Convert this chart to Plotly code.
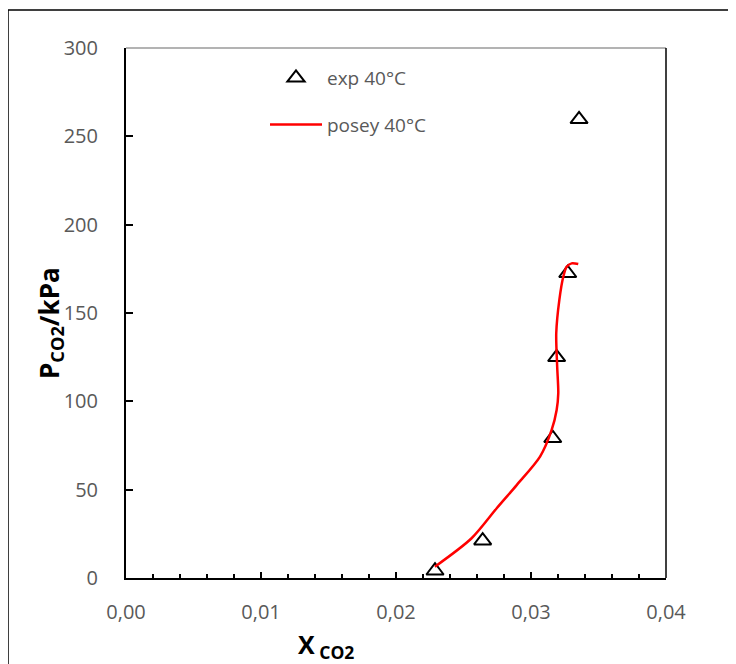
import plotly.graph_objects as go

# experimental points
exp_x = [0.02289, 0.02642, 0.03161, 0.03190, 0.03272, 0.03356]
exp_y = [4.1, 21.1, 79.1, 124.9, 172.5, 259.6]

# model curve
model_x = [0.02288, 0.02560, 0.02746, 0.02894, 0.03067, 0.03153, 0.03190, 0.03202,
           0.03194, 0.03187, 0.03210, 0.03239, 0.03264, 0.03301, 0.03350]
model_y = [6.4, 22.5, 39.5, 52.6, 68.7, 83.8, 95.1, 104.5,
           119.6, 138.5, 157.4, 170.5, 176.2, 178.1, 177.7]

x_ticks = [0.0, 0.01, 0.02, 0.03, 0.04]
y_ticks = [0, 50, 100, 150, 200, 250, 300]

GREY = "#595959"
FONT = "Open Sans"

# page has an 8px body margin; figure drawn at offset (8, 8)
OFF = 8
L, T = 126 - OFF, 48 - OFF
PW, PH = 540, 530
W, H = 736 - OFF, 664 - OFF

fig = go.Figure()
fig.add_trace(go.Scatter(
    x=exp_x, y=exp_y, mode="markers", name="exp 40°C", legendgroup="a",
    marker=dict(symbol="triangle-up-open", size=15, color="black", line=dict(width=2, color="black")),
))
fig.add_trace(go.Scatter(
    x=model_x, y=model_y, mode="lines", name="posey 40°C", legendgroup="b",
    line=dict(color="#FF0000", width=2.5, shape="spline", smoothing=0.8),
))

fig.update_layout(
    width=W, height=H,
    margin=dict(l=L, r=W - L - PW, t=T, b=H - T - PH),
    paper_bgcolor="white", plot_bgcolor="white",
    separators=",.",
    font=dict(family=FONT, size=20, color=GREY),
    showlegend=True,
    legend=dict(
        x=(265 - 126) / PW, y=1 - (59 - 48) / PH, xanchor="left", yanchor="top",
        bgcolor="rgba(0,0,0,0)", font=dict(family=FONT, size=19, color=GREY),
        itemwidth=52, tracegroupgap=19, traceorder="grouped",
    ),
    xaxis=dict(
        range=[0, 0.04], tickvals=x_ticks, tickformat=".2f",
        ticks="inside", ticklen=6, tickwidth=1.5, tickcolor="black",
        minor=dict(dtick=0.002, ticks="inside", ticklen=4, tickwidth=1.5, tickcolor="black"),
        showline=True, linecolor="black", linewidth=2,
        showgrid=False, zeroline=False, ticklabelstandoff=15,
        tickfont=dict(family=FONT, size=20, color=GREY),
    ),
    yaxis=dict(
        range=[0, 300], tickvals=y_ticks,
        ticks="inside", ticklen=7, tickwidth=1.5, tickcolor="black",
        showline=True, linecolor="black", linewidth=2,
        showgrid=False, zeroline=False, ticklabelstandoff=22,
        tickfont=dict(family=FONT, size=20, color=GREY),
    ),
    shapes=[
        dict(type="line", xref="paper", yref="paper", x0=0, x1=1, y0=1, y1=1,
             line=dict(color="#9a9a9a", width=1.5)),
        dict(type="line", xref="paper", yref="paper", x0=1, x1=1, y0=0, y1=1,
             line=dict(color="black", width=1.5)),
        dict(type="rect", xref="paper", yref="paper",
             x0=(8 - 126) / PW, x1=1.25, y0=-0.25, y1=1 + (48 - 10) / PH,
             line=dict(color="black", width=1.5), fillcolor="rgba(0,0,0,0)"),
    ],
    annotations=[
        dict(text="<b>X<sub> CO2</sub></b>", xref="paper", yref="paper",
             x=(326 - 126) / PW, y=-(645 - 578) / PH, xanchor="center", yanchor="middle",
             showarrow=False, font=dict(family=FONT, size=25, color="black")),
        dict(text="<b>P<sub>CO2</sub>/kPa</b>", xref="paper", yref="paper",
             x=-(126 - 50) / PW, y=(578 - 323) / PH, xanchor="center", yanchor="middle",
             textangle=-90, showarrow=False, font=dict(family=FONT, size=26, color="black")),
    ],
)

fig.write_html("out.html")
